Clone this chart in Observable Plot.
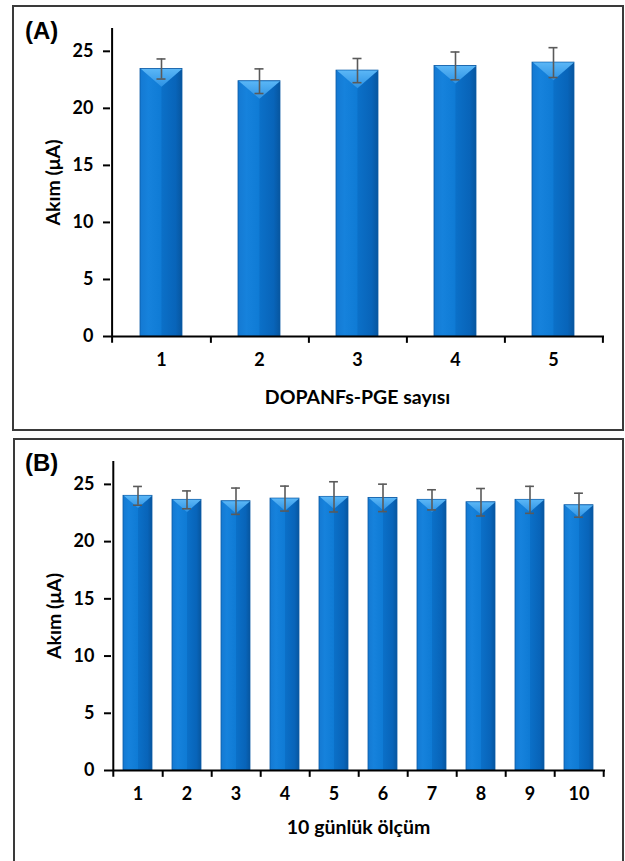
<!DOCTYPE html>
<html>
<head>
<meta charset="utf-8">
<script src="https://cdn.jsdelivr.net/npm/d3@7"></script>
<script src="https://cdn.jsdelivr.net/npm/@observablehq/plot@0.6"></script>
<style>
  html, body { margin: 0; padding: 0; background: #fff; width: 625px; height: 861px; overflow: hidden; }
  .panel { position: absolute; box-sizing: border-box; border: 2px solid #3a3a3a; background: #fff; }
  .plot { position: absolute; left: 0; }
  .tag { position: absolute; left: 25px; font: bold 24px "Liberation Sans", Arial, sans-serif; color: #000; }
</style>
</head>
<body>
<div class="panel" style="left:12px; top:5px; width:612px; height:426px;"></div>
<div class="panel" style="left:13px; top:438px; width:611px; height:430px;"></div>
<div id="a" class="plot" style="top:0px;"></div>
<div id="b" class="plot" style="top:439px;"></div>
<div class="tag" style="top:17px;">(A)</div>
<div class="tag" style="top:449px;">(B)</div>
<script>
// ---- Panel A data ----
const catsA = ["1", "2", "3", "4", "5"];
const valuesA = [23.45, 22.38, 23.31, 23.72, 24.01];
const errorsA = [0.88, 1.08, 1.06, 1.22, 1.31];
const xTitleA = "DOPANFs-PGE sayısı";

// ---- Panel B data ----
const catsB = ["1", "2", "3", "4", "5", "6", "7", "8", "9", "10"];
const valuesB = [24.0, 23.65, 23.53, 23.76, 23.91, 23.82, 23.65, 23.44, 23.65, 23.18];
const errorsB = [0.82, 0.78, 1.15, 1.09, 1.32, 1.2, 0.88, 1.2, 1.18, 1.05];
const xTitleB = "10 günlük ölçüm";

const yTicks = [0, 5, 10, 15, 20, 25];
const yTitle = "Akım (μA)";
const yMax = 27;

function inverted(width, depth) {
  return {
    draw(context) {
      context.moveTo(-width / 2, 0);
      context.lineTo(width / 2, 0);
      context.lineTo(0, depth);
      context.closePath();
    }
  };
}

function panel(id, cats, values, errors, xTitle, opt) {
  const data = cats.map((c, i) => ({cat: c, v: values[i], e: errors[i]}));
  const W = 625;
  const plotW = W - opt.ml - opt.mr;
  const step = plotW / cats.length;
  const bw = step * (1 - opt.pad);
  const gid = "grad" + id;
  const tid = "tri" + id;
  const chart = Plot.plot({
    width: W,
    height: opt.h,
    marginLeft: opt.ml,
    marginRight: opt.mr,
    marginTop: opt.mt,
    marginBottom: opt.mb,
    style: {fontFamily: "Lato, 'Open Sans', sans-serif", fontSize: "18px", fontWeight: "bold", color: "#000", background: "transparent", overflow: "visible"},
    x: {domain: cats, paddingInner: opt.pad, paddingOuter: opt.pad / 2, align: 0.5},
    y: {domain: [0, yMax]},
    marks: [
      Plot.barY(data, {x: "cat", y: "v", fill: `url(#${gid})`, stroke: "#0a5aa5", strokeWidth: 0.8}),
      Plot.dot(data, {x: "cat", y: "v", symbol: inverted(bw - 1, bw * 0.42), r: 5, fill: `url(#${tid})`, stroke: "none"}),
      Plot.ruleX(data, {x: "cat", y1: d => d.v - d.e, y2: d => d.v + d.e, stroke: "#5a5a5a", strokeWidth: 1.6}),
      Plot.tickY(data, {x: "cat", y: d => d.v + d.e, stroke: "#5a5a5a", strokeWidth: 1.6, insetLeft: (bw - 9) / 2, insetRight: (bw - 9) / 2}),
      Plot.tickY(data, {x: "cat", y: d => d.v - d.e, stroke: "#5a5a5a", strokeWidth: 1.6, insetLeft: (bw - 9) / 2, insetRight: (bw - 9) / 2}),
      // axis lines
      Plot.ruleY([0], {stroke: "#000", strokeWidth: 2}),
      Plot.ruleX([cats[0]], {y1: -0.6, y2: yMax, dx: -step / 2, stroke: "#000", strokeWidth: 2}),
      // category boundary ticks
      Plot.ruleX(cats, {y1: -0.6, y2: 0, dx: step / 2, stroke: "#000", strokeWidth: 2}),
      Plot.axisY({ticks: yTicks, tickSize: 7, tickPadding: 10, strokeWidth: 2, stroke: "#000", fontSize: 18,
                  label: yTitle, labelAnchor: "center", labelArrow: "none", labelOffset: 64}),
      Plot.axisX({tickSize: 0, tickPadding: 17, fontSize: 18,
                  label: xTitle, labelAnchor: "center", labelArrow: "none", labelOffset: opt.lo})
    ]
  });
  const svg = d3.select(chart);
  const defs = svg.insert("defs", ":first-child");
  const g = defs.append("linearGradient").attr("id", gid).attr("x1", "0").attr("x2", "1").attr("y1", "0").attr("y2", "0");
  [["0%", "#1479d2"], ["20%", "#1682dc"], ["50%", "#0f7bd5"], ["52%", "#0b70c8"], ["85%", "#0864b9"], ["100%", "#07569f"]]
    .forEach(([o, c]) => g.append("stop").attr("offset", o).attr("stop-color", c));
  const t = defs.append("linearGradient").attr("id", tid).attr("x1", "0").attr("x2", "0").attr("y1", "0").attr("y2", "1");
  [["0%", "#5ab6f6"], ["100%", "#2d92e4"]]
    .forEach(([o, c]) => t.append("stop").attr("offset", o).attr("stop-color", c));
  svg.selectAll("[aria-label='y-axis label'] text, [aria-label='x-axis label'] text").style("font-size", "19.5px").style("font-weight", "bold");
  document.getElementById(id).appendChild(chart);
}

panel("a", catsA, valuesA, errorsA, xTitleA, {h: 430, ml: 110, mr: 21, mt: 28, mb: 94, pad: 0.575, lo: 67});
panel("b", catsB, valuesB, errorsB, xTitleB, {h: 422, ml: 111, mr: 20, mt: 22, mb: 91, pad: 0.41, lo: 63});
</script>
</body>
</html>
